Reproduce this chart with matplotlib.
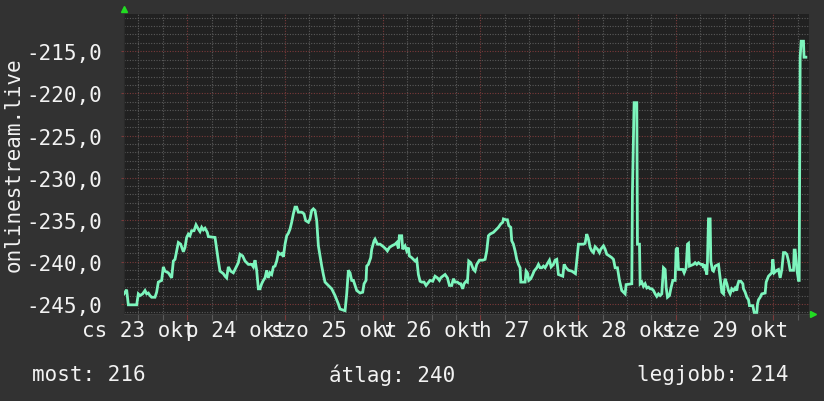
import matplotlib
matplotlib.use("Agg")
import matplotlib.pyplot as plt
from matplotlib.transforms import blended_transform_factory
import numpy as np

# ---- data (hours since 23 Oct 00:00, value) ----
hours = [8.45, 9.10, 9.51, 11.56, 11.97, 12.38, 13.03, 13.61, 14.02, 14.43, 14.83, 15.24, 16.06, 16.47,
         16.88, 17.70, 18.11, 18.52, 19.34, 20.16, 20.57, 20.98, 21.39, 21.80, 22.37, 23.03, 23.43, 23.84,
         24.25, 24.66, 25.07, 25.65, 26.14, 26.71, 27.12, 27.53, 27.94, 28.35, 28.92, 29.17, 30.81, 31.22,
         31.63, 32.03, 32.85, 33.26, 33.67, 34.08, 34.66, 35.31, 35.72, 36.54, 36.95, 37.60, 38.18, 39.00,
         39.82, 40.23, 40.64, 41.04, 41.45, 41.86, 42.27, 42.68, 43.09, 43.50, 43.91, 44.32, 44.73, 45.14,
         45.55, 45.96, 46.37, 46.78, 47.19, 47.60, 48.01, 48.42, 48.83, 49.24, 49.64, 50.05, 50.46, 50.87,
         51.28, 52.10, 52.67, 53.08, 53.74, 54.15, 54.56, 54.97, 55.38, 55.79, 56.20, 56.61, 57.02, 57.42,
         57.83, 58.65, 59.47, 60.29, 61.11, 61.52, 62.75, 63.16, 63.57, 63.98, 64.39,
         64.80, 65.62, 66.44, 67.09, 67.42, 67.91, 68.07, 68.48, 69.06, 69.30, 69.88, 70.12, 70.70, 71.35,
         72.17, 72.82, 73.15, 73.64, 74.22, 75.04, 75.45, 75.86, 76.10, 76.67, 76.92, 77.49, 77.90, 78.31,
         78.56, 79.13, 79.95, 80.36, 80.77, 81.18, 81.59, 82.16, 82.65, 82.98, 83.64, 84.29, 84.86, 85.44,
         85.93, 86.26, 86.75, 87.32, 87.90, 88.39, 88.96, 89.37, 89.78, 90.35, 90.84, 91.17, 91.66, 91.99,
         92.48, 92.81, 93.14, 93.63, 94.28, 94.69, 95.10, 95.76, 96.58, 97.15, 97.56, 97.97, 98.38, 99.20,
         99.61, 100.02, 100.43, 101.00, 101.49, 101.66, 102.23, 102.64, 102.97, 103.46, 103.70, 104.11,
         104.52, 104.93, 105.34, 105.75, 105.92, 106.98, 107.23, 107.55, 107.88, 108.37, 108.86, 109.19,
         109.52, 109.85, 110.26, 110.67, 111.08, 111.49, 111.90, 112.47, 112.96, 113.37, 113.94, 114.35,
         114.76, 115.17, 116.24, 116.56, 117.05, 117.63, 118.45, 119.35, 119.84, 120.09, 121.31, 121.72,
         122.13, 122.54, 122.95, 123.36, 123.77, 124.18, 124.76, 125.25, 125.57, 126.23, 126.64, 127.05,
         127.70, 128.28, 128.69, 129.10, 129.67, 130.16, 130.73, 131.14, 131.55, 131.80, 133.19, 133.35,
         133.76, 134.42, 134.58, 135.08, 135.24, 135.65, 136.06, 136.47, 136.88, 137.29, 137.70, 138.11,
         138.52, 138.93, 139.33, 139.74, 140.15, 140.56, 140.97, 141.38, 141.63, 141.96, 142.45, 142.77,
         143.27, 143.84, 144.09, 144.41, 144.66, 145.72, 146.05, 146.54, 146.87, 147.12, 147.36, 148.34,
         148.75, 149.16, 149.57, 150.15, 150.56, 150.80, 150.97, 151.21, 151.46, 151.62, 151.78, 152.03,
         152.44, 152.60, 153.01, 153.26, 153.67, 154.49, 154.90, 155.31, 155.72, 155.88, 156.12, 156.54,
         156.94, 157.35, 157.76, 158.17, 158.58, 158.99, 159.16, 159.48, 159.97, 160.47, 160.63, 161.04,
         161.45, 161.86, 162.10, 162.92, 163.25, 163.91, 164.07, 164.32, 164.73, 165.13, 165.95, 166.20,
         166.77, 167.18, 167.59, 167.84, 168.17, 168.82, 169.23, 169.64, 170.05, 170.46, 170.87, 171.28,
         171.69, 172.10, 172.92, 173.08, 173.33, 173.74, 174.15, 174.31, 174.55, 174.80, 175.37, 175.50,
         175.96]
values = [-243.8, -243.3, -245.1, -245.1, -243.8, -244.0, -243.8, -243.4, -243.8, -243.7, -244.0, -244.2, -244.2, -243.6,
          -242.4, -242.2, -240.6, -241.1, -241.3, -241.9, -239.9, -239.7, -238.7, -237.7, -237.9, -238.8, -238.3, -237.1,
          -236.7, -236.9, -236.3, -236.3, -235.6, -236.1, -236.4, -235.9, -236.2, -236.0, -236.5, -237.0, -237.1, -238.5,
          -239.9, -241.1, -241.4, -241.7, -241.9, -240.6, -241.1, -241.3, -240.9, -240.1, -239.1, -239.3, -239.9, -240.3,
          -240.3, -240.6, -239.8, -241.0, -243.2, -243.2, -242.6, -242.2, -241.9, -241.0, -241.9, -241.3, -241.5, -240.6,
          -240.5, -239.9, -238.9, -239.1, -239.0, -239.4, -237.9, -236.9, -236.6, -236.1, -235.3, -234.3, -233.5, -233.5,
          -234.1, -234.1, -234.3, -235.1, -235.3, -234.9, -233.9, -233.7, -233.9, -235.1, -238.1, -239.3, -240.5, -241.5,
          -242.4, -242.8, -243.2, -244.0, -245.0, -245.6, -245.8, -243.8, -241.0, -241.3, -242.2,
          -242.2, -243.4, -243.7, -243.6, -242.6, -242.2, -240.5, -240.3, -239.5, -238.5, -237.5, -237.3, -237.9, -237.9,
          -238.2, -238.5, -238.7, -238.3, -238.1, -237.9, -237.7, -238.4, -236.9, -236.9, -238.5, -238.1, -238.7, -238.3,
          -239.3, -239.5, -239.9, -239.7, -241.5, -242.3, -242.4, -242.4, -242.8, -242.6, -242.2, -242.3, -241.7, -241.9,
          -242.2, -241.9, -241.7, -241.5, -241.9, -242.8, -242.8, -242.0, -242.4, -242.4, -242.6, -242.6, -243.2, -242.6,
          -242.3, -242.4, -239.9, -240.1, -240.9, -241.1, -240.3, -239.8, -239.8, -239.7, -238.7, -236.9, -236.7, -236.5,
          -236.3, -236.1, -235.9, -235.5, -235.3, -234.9, -235.0, -235.0, -235.7, -235.9, -237.5, -237.9,
          -238.7, -239.7, -240.3, -240.7, -242.4, -242.4, -241.1, -241.3, -242.2, -242.0, -241.5, -241.1,
          -240.9, -240.7, -240.3, -240.7, -240.7, -240.5, -240.7, -240.2, -239.8, -240.6, -240.3, -239.8,
          -239.7, -241.5, -241.7, -240.3, -240.7, -241.0, -241.1, -241.4, -239.1, -237.9, -237.9, -237.8,
          -236.7, -237.3, -238.3, -238.7, -238.9, -238.2, -238.5, -238.9, -238.5, -238.1, -238.5, -239.1,
          -239.3, -239.5, -239.7, -240.7, -240.7, -242.2, -243.4, -243.6, -243.8, -242.7, -242.6, -231.7,
          -221.1, -221.1, -237.9, -237.9, -242.6, -242.4, -242.9, -242.6, -243.1, -243.0, -243.2, -243.2,
          -243.4, -243.8, -244.1, -243.8, -244.0, -243.8, -240.7, -240.9, -243.0, -244.2, -244.0, -243.2,
          -242.2, -242.2, -238.5, -238.3, -240.9, -240.9, -241.3, -240.7, -237.9, -237.8, -240.5, -240.3,
          -240.1, -240.3, -240.1, -240.3, -240.3, -240.7, -240.3, -240.9, -241.1, -241.5, -239.9, -234.9,
          -234.9, -239.9, -241.0, -241.1, -240.5, -240.3, -242.0, -243.6, -243.8, -242.6, -242.0, -242.6,
          -243.4, -243.8, -243.2, -243.4, -243.1, -243.4, -242.8, -242.3, -242.3, -242.6, -243.2, -243.6,
          -244.2, -244.5, -245.2, -245.2, -246.0, -246.0, -245.0, -244.5, -244.2, -243.8, -243.7, -242.4,
          -241.7, -241.5, -241.3, -239.7, -241.3, -241.0, -240.9, -241.9, -240.9, -238.9, -238.9, -239.1,
          -239.9, -241.0, -241.0, -238.6, -238.6, -240.9, -242.2, -242.2, -215.7, -213.8, -213.8, -215.7,
          -215.7]

day_labels = ["cs 23 okt", "p 24 okt", "szo 25 okt", "v 26 okt", "h 27 okt", "k 28 okt", "sze 29 okt"]
y_label = "onlinestream.live"
legend_items = ["most: 216", "átlag: 240", "legjobb: 214"]
legend_x = [32, 329, 637]

# ---- style ----
BG = "#323232"
PLOT_BG = "#212121"
MINOR = "#5a5a5a"
MAJOR = "#7a3a3a"
LINE = "#7df5bd"
TXT = "#f2f2f2"
ARROW = "#22dd22"
FONT = "DejaVu Sans Mono"
FS = 15

W, H = 824, 402
fig = plt.figure(figsize=(W / 100, H / 100), dpi=100, facecolor=BG)
L, R, T, B = 124, 808.5, 15, 314.5
ax = fig.add_axes([L / W, 1 - B / H, (R - L) / W, (B - T) / H])
ax.set_facecolor(PLOT_BG)

x_min, x_max = 8.45, 176.6
y_min, y_max = -246.13, -210.57
ax.set_xlim(x_min, x_max)
ax.set_ylim(y_min, y_max)

# grid
dot = (0, (1.0, 1.4))
for h in np.arange(3.5 + 6 - 3.5 + 0, x_max, 6):
    pass
minor_x = [h for h in np.arange(6, x_max, 6) if h > x_min and h % 24 != 0]
major_x = [h for h in np.arange(24, x_max, 24)]
minor_y = [v for v in np.arange(-246, -210, 1) if v % 5 != 0 and v > y_min]
major_y = [v for v in np.arange(-245, -210, 5)]
for h in minor_x:
    ax.axvline(h, color=MINOR, lw=0.8, ls=dot, zorder=1)
for h in major_x:
    ax.axvline(h, color=MAJOR, lw=0.8, ls=dot, zorder=1)
for v in minor_y:
    ax.axhline(v, color=MINOR, lw=0.8, ls=dot, zorder=1)
for v in major_y:
    ax.axhline(v, color=MAJOR, lw=0.8, ls=dot, zorder=1)

ax.plot(hours, values, color=LINE, lw=2.0, zorder=3, solid_joinstyle="miter")

for s in ax.spines.values():
    s.set_visible(False)
ax.spines["bottom"].set_visible(True)
ax.spines["bottom"].set_color("#3c3c3c")
ax.spines["left"].set_visible(True)
ax.spines["left"].set_color("#2a2a2a")

ax.set_xticks(major_x)
ax.set_xticks(minor_x, minor=True)
ax.tick_params(axis="x", which="major", length=4, width=0.8, color=MAJOR, labelbottom=False, direction="out")
ax.tick_params(axis="x", which="minor", length=4, width=0.8, color=MINOR, labelbottom=False, direction="out")
ax.set_yticks(major_y)
ax.set_yticklabels([f"{v:.1f}".replace(".", ",") for v in major_y], fontfamily=FONT, fontsize=FS, color=TXT)
ax.tick_params(axis="y", which="major", length=2, pad=14, color=MAJOR)

trans = blended_transform_factory(ax.transData, ax.transAxes)
for i, lab in enumerate(day_labels):
    ax.text(12 + 24 * i, -0.055, lab, transform=trans, ha="center", va="center",
            fontfamily=FONT, fontsize=FS, color=TXT, clip_on=False)

fig.text(14 / W, 1 - 165 / H, y_label, rotation=90, ha="center", va="center",
         fontfamily=FONT, fontsize=FS, color=TXT)

for x, lab in zip(legend_x, legend_items):
    fig.text(x / W, 1 - 375 / H, lab, ha="left", va="center",
             fontfamily=FONT, fontsize=FS, color=TXT)

# arrow heads of the axes
fig.lines.append(plt.Line2D([L / W], [1 - 10 / H], marker="^", ms=5, color=ARROW,
                            transform=fig.transFigure, ls="none"))
fig.lines.append(plt.Line2D([813 / W], [1 - 315 / H], marker=">", ms=5, color=ARROW,
                            transform=fig.transFigure, ls="none"))

fig.savefig("out.png", dpi=100, facecolor=BG)
